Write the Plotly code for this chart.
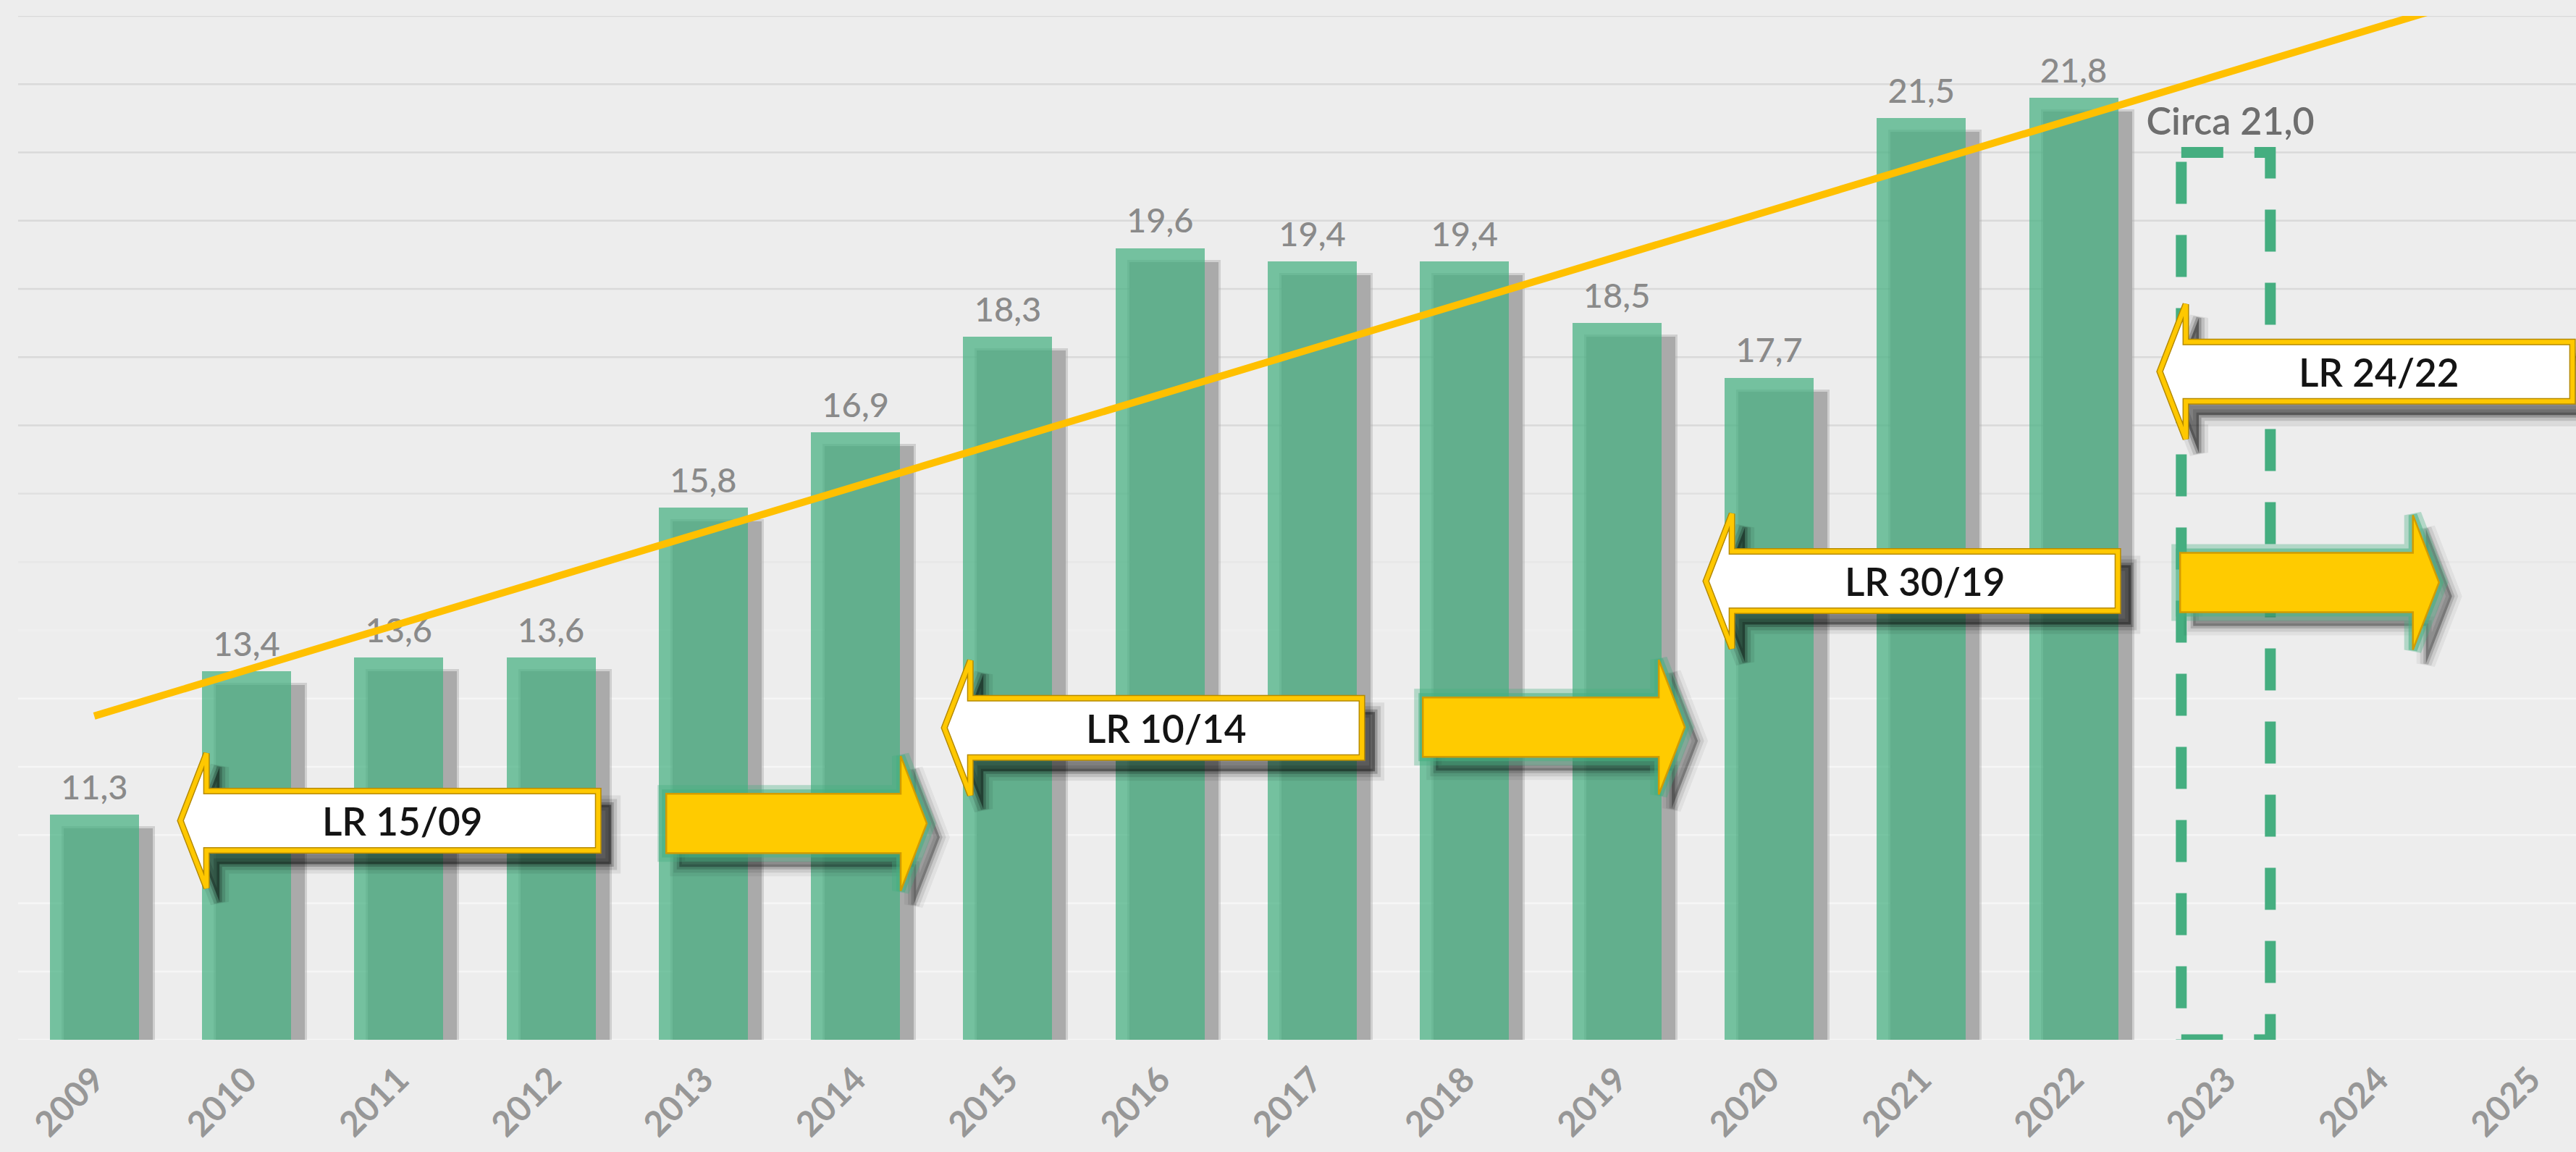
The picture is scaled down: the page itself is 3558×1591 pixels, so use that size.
import numpy as np
import plotly.graph_objects as go

# ---------------- data ----------------
years = ["2009", "2010", "2011", "2012", "2013", "2014", "2015", "2016",
         "2017", "2018", "2019", "2020", "2021", "2022", "2023", "2024", "2025"]
values = [11.3, 13.4, 13.6, 13.6, 15.8, 16.9, 18.3, 19.6, 19.4, 19.4, 18.5, 17.7, 21.5, 21.8]
estimate_year = "2023"
estimate_value = 21.0
estimate_prefix = "Circa"
arrow_labels = ["LR 15/09", "LR 10/14", "LR 30/19", "LR 24/22"]

# ---------------- geometry ----------------
W, H = 3558, 1591
ML, MR, MT, MB = 25, 0, 22, 155
X_RANGE = [-0.5, 16.3]
Y_RANGE = [8, 23]
PX_X = (W - ML - MR) / (X_RANGE[1] - X_RANGE[0])
PX_Y = (H - MT - MB) / (Y_RANGE[1] - Y_RANGE[0])

FONT = "Lato"
BG = "#EDEDED"
GREEN = "rgba(72,177,131,0.735)"
DASH_GREEN = "#45AE80"
GOLD = "#FFC000"

idx = list(range(len(years)))
bar_idx = idx[:len(values)]
est_idx = years.index(estimate_year)


def fmt(v):
    return f"{v:.1f}".replace(".", ",")


bar_w = 123 / PX_X
sh_dx = 19 / PX_X
sh_dy = 19 / PX_Y

fig = go.Figure()

# bar shadows (soft edge + core)
fig.add_trace(go.Bar(
    x=bar_idx, y=[v - sh_dy + 3 / PX_Y for v in values], width=bar_w + 6 / PX_X,
    offset=-bar_w / 2 + sh_dx - 3 / PX_X, marker=dict(color="rgba(170,170,170,0.45)", line=dict(width=0)),
    hoverinfo="skip", showlegend=False))
fig.add_trace(go.Bar(
    x=bar_idx, y=[v - sh_dy for v in values], width=bar_w,
    offset=-bar_w / 2 + sh_dx, marker=dict(color="#AAAAAA", line=dict(width=0)),
    hoverinfo="skip", showlegend=False))
# bars
fig.add_trace(go.Bar(
    x=bar_idx, y=values, width=bar_w,
    marker=dict(color=GREEN, line=dict(width=0)), showlegend=False))

# value labels
fig.add_trace(go.Scatter(
    x=bar_idx, y=[v + 0.1 for v in values], mode="text",
    text=[fmt(v) for v in values], textposition="top center",
    textfont=dict(family=FONT, size=47, color="#8A8A8A", weight=500),
    hoverinfo="skip", showlegend=False))

# estimate dashed box
x0, x1 = est_idx - bar_w / 2, est_idx + bar_w / 2
fig.add_trace(go.Scatter(
    x=[x0, x1, x1, x0, x0], y=[estimate_value, estimate_value, Y_RANGE[0], Y_RANGE[0], estimate_value],
    mode="lines", line=dict(color=DASH_GREEN, width=15, dash="58px,43px"),
    hoverinfo="skip", showlegend=False))
fig.add_trace(go.Scatter(
    x=[est_idx + 0.03], y=[estimate_value + 0.12], mode="text",
    text=[f"{estimate_prefix} {fmt(estimate_value)}"], textposition="top center",
    textfont=dict(family=FONT, size=52, color="#6E6E6E", weight=600),
    hoverinfo="skip", showlegend=False))

# linear trend (incl. estimate)
trend_y = values + [estimate_value]
coef = np.polyfit(np.arange(len(trend_y)), trend_y, 1)
tx = np.array([0, idx[-1]])
fig.add_trace(go.Scatter(
    x=tx, y=np.polyval(coef, tx), mode="lines",
    line=dict(color=GOLD, width=10), hoverinfo="skip", showlegend=False))

# ---------------- shapes ----------------
shapes = []


def lerp(a, b, t):
    return int(round(a + (b - a) * t))


for g in range(Y_RANGE[0], Y_RANGE[1] + 1):
    py = MT + (Y_RANGE[1] - g) * PX_Y
    t = min(max((py - 600) / 360, 0), 1)
    c = lerp(0xD9, 0xF6, t)
    shapes.append(dict(type="line", xref="paper", yref="y", x0=0, x1=1, y0=g, y1=g,
                       line=dict(color=f"rgb({c},{c},{c})", width=2.5), layer="below"))

BH = 41 / PX_Y   # body half height
HH = 93 / PX_Y   # head half height
HL = 36 / PX_X   # head length


def arrow_path(tip, tail, cy, dx=0.0, dy=0.0):
    s = 1 if tail > tip else -1
    hb = tip + s * HL
    pts = [(tip, cy), (hb, cy + HH), (hb, cy + BH), (tail, cy + BH),
           (tail, cy - BH), (hb, cy - BH), (hb, cy - HH)]
    return "M " + " L ".join(f"{x + dx:.4f},{y + dy:.4f}" for x, y in pts) + " Z"


def soft_shadow(tip, tail, cy, alpha):
    out = []
    sdx, sdy = 18 / PX_X, -19 / PX_Y
    for wdt, a in ((26, alpha * 0.18), (16, alpha * 0.3), (7, alpha * 0.5)):
        out.append(dict(type="path", xref="x", yref="y", layer="above",
                        path=arrow_path(tip, tail, cy, sdx, sdy),
                        fillcolor="rgba(0,0,0,0)", line=dict(color=f"rgba(0,0,0,{a:.3f})", width=wdt)))
    out.append(dict(type="path", xref="x", yref="y", layer="above",
                    path=arrow_path(tip, tail, cy, sdx, sdy),
                    fillcolor=f"rgba(0,0,0,{alpha:.3f})", line=dict(width=0)))
    return out


white_arrows = [  # tip x, tail x, centre y (data units)
    (0.566, 3.310, 11.21),
    (5.583, 8.326, 12.57),
    (10.585, 13.291, 14.72),
    (13.566, 16.277, 17.79),
]
yellow_arrows = [  # tail x, tip x, centre y
    (3.757, 5.468, 11.17),
    (8.726, 10.447, 12.58),
    (13.70, 15.40, 14.70),
]

for tail, tip, cy in yellow_arrows:
    shapes += soft_shadow(tip, tail, cy, 0.3)
    shapes.append(dict(type="path", xref="x", yref="y", layer="above",
                       path=arrow_path(tip, tail, cy),
                       fillcolor="rgba(0,0,0,0)", line=dict(color="rgba(69,174,128,0.35)", width=24)))
    shapes.append(dict(type="path", xref="x", yref="y", layer="above",
                       path=arrow_path(tip, tail, cy),
                       fillcolor="rgba(0,0,0,0)", line=dict(color="rgba(69,174,128,0.55)", width=12)))
    shapes.append(dict(type="path", xref="x", yref="y", layer="above",
                       path=arrow_path(tip, tail, cy),
                       fillcolor="#FFCB00", line=dict(color="#D19C00", width=2.5)))

annotations = []
for (tip, tail, cy), lab in zip(white_arrows, arrow_labels):
    shapes += soft_shadow(tip, tail, cy, 0.42)
    shapes.append(dict(type="path", xref="x", yref="y", layer="above",
                       path=arrow_path(tip, tail, cy),
                       fillcolor="#FFFFFF", line=dict(color="#B58A00", width=9)))
    shapes.append(dict(type="path", xref="x", yref="y", layer="above",
                       path=arrow_path(tip, tail, cy),
                       fillcolor="rgba(0,0,0,0)", line=dict(color="#FFC800", width=6)))
    annotations.append(dict(x=(tip + HL + tail) / 2, y=cy, xref="x", yref="y",
                            text=lab, showarrow=False, xanchor="center", yanchor="middle",
                            font=dict(family=FONT, size=53, color="#141414", weight=600)))

fig.update_layout(
    width=W, height=H, autosize=False,
    margin=dict(l=ML, r=MR, t=MT, b=MB, pad=0, autoexpand=False),
    paper_bgcolor=BG, plot_bgcolor=BG,
    barmode="overlay", bargap=0,
    shapes=shapes, annotations=annotations,
    showlegend=False,
    xaxis=dict(type="linear", range=X_RANGE, tickmode="array", tickvals=idx, ticktext=years,
               tickangle=-45, showgrid=False, zeroline=False, showline=False, ticks="",
               ticklabelstandoff=16, automargin=False,
               tickfont=dict(family=FONT, size=48, color="#979797", weight=700)),
    yaxis=dict(range=Y_RANGE, showgrid=False, zeroline=False, showline=False,
               showticklabels=False, ticks="", automargin=False),
)

fig.write_html("out.html", config=dict(displayModeBar=False),
               post_script="document.body.style.margin='0';document.body.style.overflow='hidden';")
